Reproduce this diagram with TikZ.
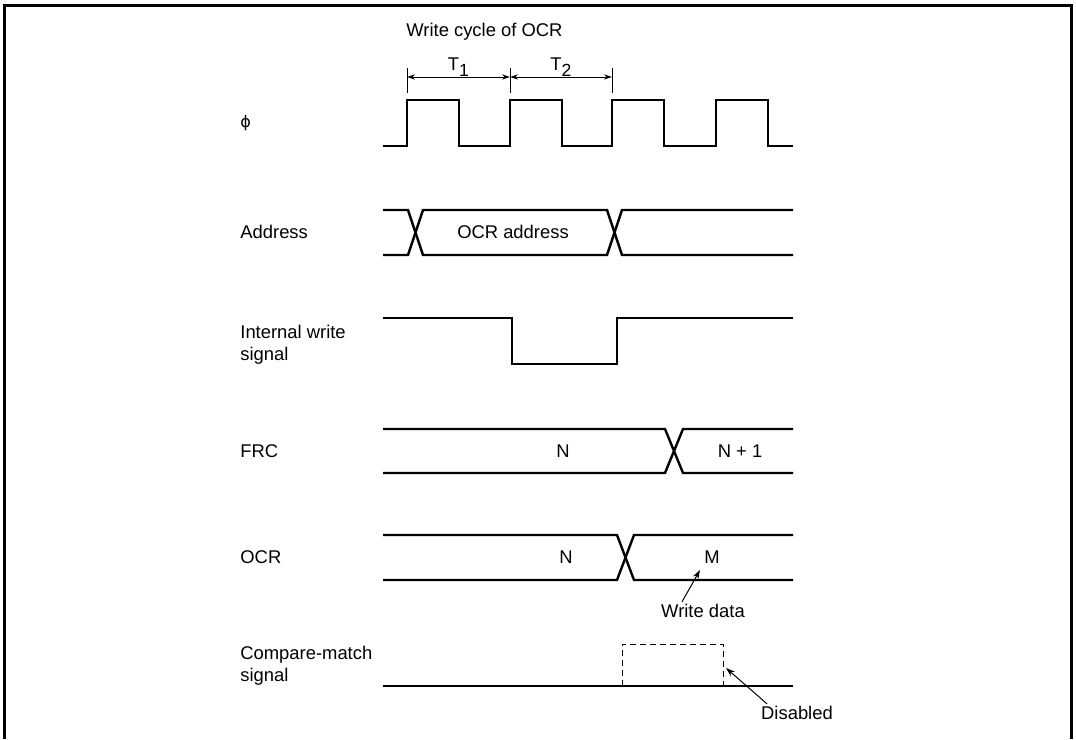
\documentclass[tikz,border=0pt]{standalone}
\usepackage{fontspec}
\setmainfont{Liberation Sans}
\newfontfamily\symfont{DejaVu Sans}
\usetikzlibrary{arrows.meta}
\newcommand\lowsub[1]{\raisebox{-0.6ex}{\fontsize{8.8}{8.8}\selectfont#1}}

\begin{document}
\begin{tikzpicture}[x=0.5pt,y=-0.5pt,
 every node/.style={font=\fontsize{9.2}{11}\selectfont,inner sep=1pt},
 lbl/.style={anchor=west,align=left},
 wave/.style={line width=1.2pt,line join=miter},
 tick/.style={line width=.5pt},
 dim/.style={{Stealth[length=4pt,width=2.6pt]}-{Stealth[length=4pt,width=2.6pt]},line width=.5pt},
 arr/.style={-{Stealth[length=4.5pt,width=3pt]},line width=.5pt}]
\useasboundingbox (0,0) rectangle (1076,739);
\draw[line width=1.5pt] (4,739) -- (4,5) -- (1071,5) -- (1071,739);
\node[lbl] (phi) at (238,123) {{\symfont\fontsize{8}{8}\selectfont ϕ}};
\node[lbl] (addr) at (238,232) {Address};
\node[lbl] (iws) at (238,345) {Internal write\\signal};
\node[lbl] (frc) at (238,451) {FRC};
\node[lbl] (ocr) at (238,557) {OCR};
\node[lbl] (cms) at (238,666) {Compare-match\\signal};
\node[anchor=west] (title) at (404,32) {Write cycle of OCR};
\coordinate (a0) at (407,77);
\coordinate (a1) at (510,77);
\coordinate (a2) at (612,77);
\foreach \c in {a0,a1,a2} \draw[tick] (\c) ++(0,-9) -- ++(0,25);
\draw[dim] (a0) -- node[above=-1pt] (t1) {T\lowsub{1}} (a1);
\draw[dim] (a1) -- node[above=-1pt] (t2) {T\lowsub{2}} (a2);
\draw[wave] (383,146) foreach \x in {407,510,612,716} {-| (\x,100) -| (\x+52,146)} -- (793,146);
\draw[wave] (383,210) -- (408,210) -- (423,255) -- (607,255) -- (622,210) -- (793,210);
\draw[wave] (383,255) -- (408,255) -- (423,210) -- (607,210) -- (622,255) -- (793,255);
\node (ocra) at (513,232) {OCR address};
\draw[wave] (383,318) -| (512,364) -| (617,318) -- (793,318);
\draw[wave] (383,429) -- (665,429) -- (683,473) -- (793,473);
\draw[wave] (383,473) -- (665,473) -- (683,429) -- (793,429);
\node (frcn) at (563,451) {N};
\node (frcn1) at (740,451) {N + 1};
\draw[wave] (383,535) -- (617,535) -- (634,580) -- (793,580);
\draw[wave] (383,580) -- (617,580) -- (634,535) -- (793,535);
\node (ocrn) at (566,557) {N};
\node (ocrm) at (712,557) {M};
\node (wdata) at (703,611) {Write data};
\coordinate (mtip) at (700,570);
\draw[arr] ([xshift=-10.5pt]wdata.north) -- (mtip);
\draw[wave] (383,686) -- (793,686);
\draw[line width=.5pt,dash pattern=on 3pt off 2pt] (622,686) |- (723,644) -- (723,686);
\node (dis) at (797,713) {Disabled};
\coordinate (distip) at (726,668);
\draw[arr] ([xshift=-15pt]dis.north) -- (distip);
\end{tikzpicture}
\end{document}
